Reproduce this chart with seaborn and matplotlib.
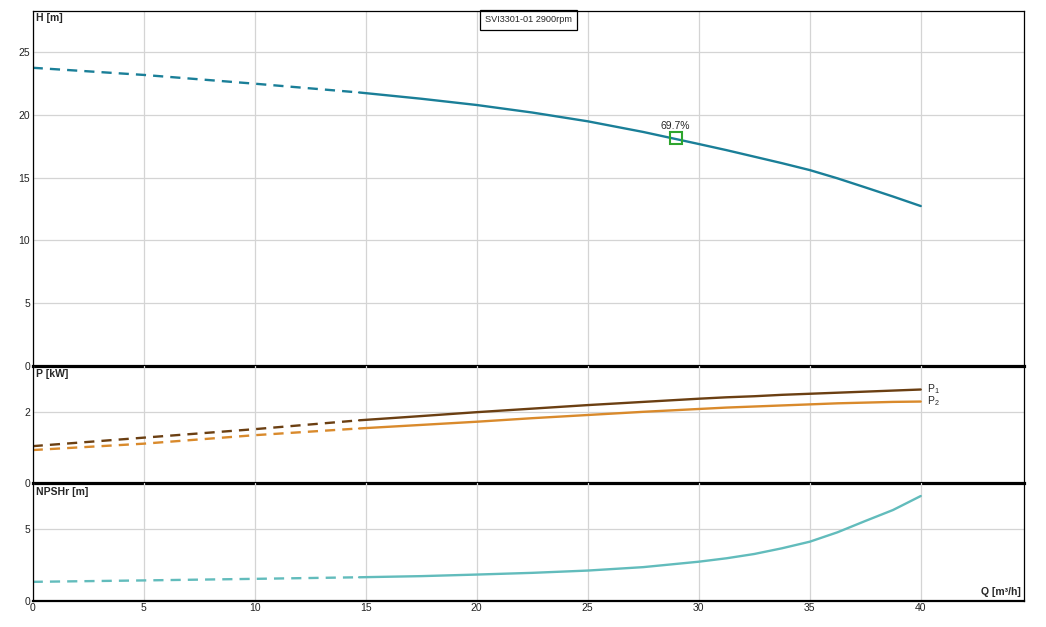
import matplotlib
matplotlib.use("Agg")
import matplotlib.pyplot as plt
import seaborn as sns

# curve data (Q in m3/h)
q_dash = [0, 5, 10, 14.7]
q_solid = [14.7, 17.5, 20, 22.5, 25, 27.5, 30, 31.25, 32.5, 33.75, 35, 36.25, 37.5, 38.75, 40]

h_dash = [23.77, 23.2, 22.5, 21.8]
h_solid = [21.8, 21.3, 20.8, 20.2, 19.5, 18.65, 17.69, 17.2, 16.68, 16.16, 15.61, 14.95, 14.23, 13.5, 12.74]

p1_dash = [1.04, 1.28, 1.52, 1.77]
p1_solid = [1.77, 1.89, 2.0, 2.1, 2.2, 2.29, 2.38, 2.42, 2.45, 2.49, 2.52, 2.55, 2.58, 2.61, 2.64]

p2_dash = [0.93, 1.11, 1.35, 1.54]
p2_solid = [1.54, 1.64, 1.73, 1.83, 1.92, 2.01, 2.09, 2.13, 2.16, 2.19, 2.22, 2.25, 2.27, 2.29, 2.30]

npsh_dash = [1.32, 1.42, 1.53, 1.64]
npsh_solid = [1.64, 1.72, 1.83, 1.95, 2.11, 2.35, 2.73, 2.97, 3.27, 3.67, 4.13, 4.79, 5.58, 6.35, 7.33]

bep_q = 28.96
bep_h = 18.14
bep_label = "69.7%"
title = "SVI3301-01 2900rpm"

sns.set_style("white")
plt.rcParams['font.family'] = ['Liberation Sans', 'DejaVu Sans']
plt.rcParams['mathtext.fontset'] = 'custom'
plt.rcParams['mathtext.rm'] = 'Liberation Sans'

c_h = "#1a7f98"
c_p1 = "#6b3f12"
c_p2 = "#d98a2c"
c_npsh = "#62bcbc"
grid_c = "#d4d4d4"
dash = (0, (4.3, 3))

fig = plt.figure(figsize=(10.46, 6.27), dpi=100)
left, width = 0.03126, 0.9477
ax_h = fig.add_axes([left, 0.4166, width, 0.5659])
ax_p = fig.add_axes([left, 0.2297, width, 0.1869], sharex=ax_h)
ax_n = fig.add_axes([left, 0.04195, width, 0.1877], sharex=ax_h)

xmax = 44.65
for ax in (ax_h, ax_p, ax_n):
    ax.set_xlim(0, xmax)
    ax.set_xticks(range(0, 45, 5))
    ax.grid(True, color=grid_c, linewidth=0.9)
    ax.set_axisbelow(True)
    ax.patch.set_alpha(0)
    ax.tick_params(length=0, labelsize=7.5, pad=2, colors="#222222")
    for s in ax.spines.values():
        s.set_color("black")
        s.set_linewidth(0.9)
        s.set_zorder(5)
    ax.set_xlabel("")
    ax.set_ylabel("")

ax_h.tick_params(labelbottom=False)
ax_p.tick_params(labelbottom=False)
ax_h.spines["bottom"].set_linewidth(2.3)
ax_p.spines["bottom"].set_linewidth(2.3)
ax_p.spines["top"].set_visible(False)
ax_n.spines["top"].set_visible(False)
ax_n.spines["bottom"].set_linewidth(1.6)

# H panel
sns.lineplot(x=q_dash, y=h_dash, ax=ax_h, color=c_h, linewidth=1.7, linestyle=dash)
sns.lineplot(x=q_solid, y=h_solid, ax=ax_h, color=c_h, linewidth=1.7)
ax_h.plot([bep_q], [bep_h], marker="s", markersize=8, markerfacecolor="none",
          markeredgecolor="#2ea52e", markeredgewidth=1.5, linestyle="none")
ax_h.text(bep_q, bep_h + 0.55, bep_label, ha="center", va="bottom", fontsize=7.5)
ax_h.set_ylim(0, 28.3)
ax_h.set_yticks([0, 5, 10, 15, 20, 25])
ax_h.text(0.003, 0.993, "H [m]", transform=ax_h.transAxes, ha="left", va="top",
          fontsize=7.5, fontweight="bold")
ax_h.text(22.35, 27.58, title, ha="center", va="center", fontsize=6.6,
          bbox=dict(boxstyle="square,pad=0.55", facecolor="white", edgecolor="black", linewidth=0.9))

# P panel
sns.lineplot(x=q_dash, y=p1_dash, ax=ax_p, color=c_p1, linewidth=1.7, linestyle=dash)
sns.lineplot(x=q_solid, y=p1_solid, ax=ax_p, color=c_p1, linewidth=1.7)
sns.lineplot(x=q_dash, y=p2_dash, ax=ax_p, color=c_p2, linewidth=1.7, linestyle=dash)
sns.lineplot(x=q_solid, y=p2_solid, ax=ax_p, color=c_p2, linewidth=1.7)
ax_p.text(q_solid[-1] + 0.3, p1_solid[-1], r"P$_\mathregular{1}$", ha="left", va="center", fontsize=7.5)
ax_p.text(q_solid[-1] + 0.3, p2_solid[-1], r"P$_\mathregular{2}$", ha="left", va="center", fontsize=7.5)
ax_p.set_ylim(0, 3.31)
ax_p.set_yticks([0, 2])
ax_p.text(0.003, 0.97, "P [kW]", transform=ax_p.transAxes, ha="left", va="top",
          fontsize=7.5, fontweight="bold")

# NPSH panel
sns.lineplot(x=q_dash, y=npsh_dash, ax=ax_n, color=c_npsh, linewidth=1.7, linestyle=dash)
sns.lineplot(x=q_solid, y=npsh_solid, ax=ax_n, color=c_npsh, linewidth=1.7)
ax_n.set_ylim(0, 8.24)
ax_n.set_yticks([0, 5])
ax_n.text(0.003, 0.97, "NPSHr [m]", transform=ax_n.transAxes, ha="left", va="top",
          fontsize=7.5, fontweight="bold")
ax_n.text(0.997, 0.03, "Q [m³/h]", transform=ax_n.transAxes, ha="right", va="bottom",
          fontsize=7.5, fontweight="bold")

fig.savefig("out.png", dpi=100)
